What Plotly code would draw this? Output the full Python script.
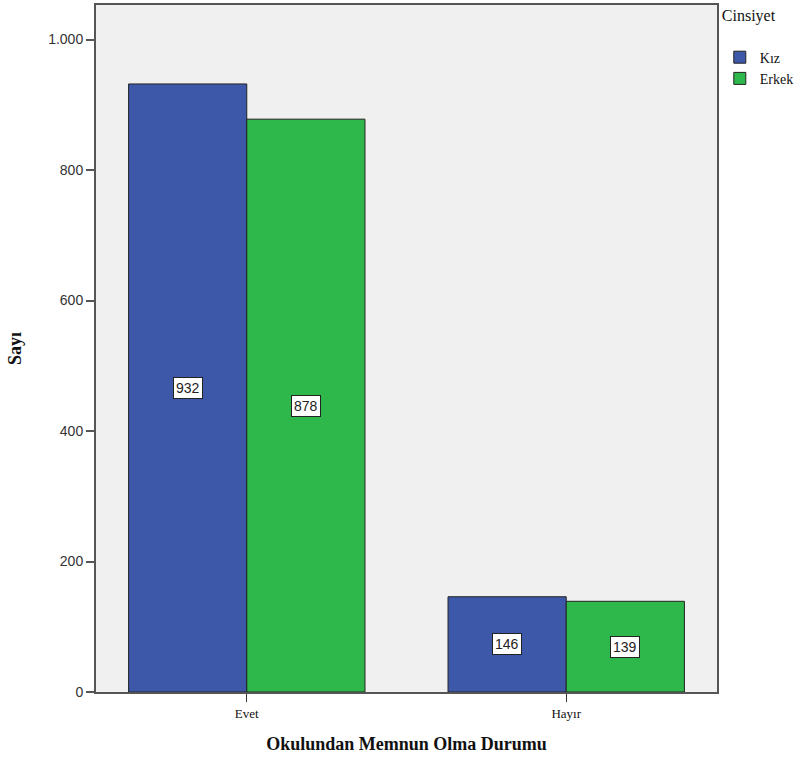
import plotly.graph_objects as go

categories = ["Evet", "Hayır"]
kiz_values = [932, 146]
erkek_values = [878, 139]
series_names = ["Kız", "Erkek"]
y_tickvals = [0, 200, 400, 600, 800, 1000]

colors = ["#3E58A9", "#2EB84B"]
serif = "Liberation Serif, serif"
sans = "Liberation Sans, Arial, sans-serif"

fig = go.Figure()
for name, vals, col in zip(series_names, [kiz_values, erkek_values], colors):
    fig.add_trace(go.Bar(
        x=categories, y=vals, name=name,
        marker=dict(color=col, line=dict(color="#222222", width=1)),
        hoverinfo="skip",
    ))

offset = 0.185
for si, vals in enumerate([kiz_values, erkek_values]):
    for ci, v in enumerate(vals):
        fig.add_annotation(
            x=ci + (-offset if si == 0 else offset), y=v / 2, xref="x", yref="y",
            text=str(v), showarrow=False,
            font=dict(family=sans, size=14, color="#222222"),
            bgcolor="white", bordercolor="#222222", borderwidth=1, borderpad=2,
        )

fig.update_layout(
    width=798, height=762,
    barmode="group", bargap=0.26, bargroupgap=0,
    separators=",.",
    paper_bgcolor="white", plot_bgcolor="#F0F0F0",
    margin=dict(l=96, r=81, t=5, b=70, autoexpand=False),
    legend=dict(
        title=dict(text="Cinsiyet<br>", font=dict(family=serif, size=16, color="#111111")),
        font=dict(family=serif, size=14, color="#111111"),
        xref="container", yref="container",
        x=0.902, y=1.0, xanchor="left", yanchor="top",
        bgcolor="rgba(0,0,0,0)", tracegroupgap=0, itemwidth=30,
    ),
    xaxis=dict(
        type="category", range=[-0.472, 1.472],
        showline=True, linecolor="#555555", linewidth=2, mirror=True,
        ticks="outside", ticklen=8, tickcolor="#333333", tickwidth=1,
        tickfont=dict(family=serif, size=13, color="#111111"),
        title=dict(text="<b>Okulundan Memnun Olma Durumu</b>",
                   font=dict(family=serif, size=18, color="#111111"), standoff=18),
        showgrid=False,
    ),
    yaxis=dict(
        range=[0, 1053], tickvals=y_tickvals, tickformat=",d",
        showline=True, linecolor="#555555", linewidth=2, mirror=True,
        ticks="outside", ticklen=8, tickcolor="#555555", tickwidth=2,
        tickfont=dict(family=sans, size=14, color="#333333"),
        title=dict(text="<b>Sayı</b>", font=dict(family=serif, size=18, color="#111111"), standoff=22),
        showgrid=False, zeroline=False,
    ),
    showlegend=True,
)

fig.write_html("out.html", config={"displayModeBar": False},
               post_script="document.body.style.margin='0';")
